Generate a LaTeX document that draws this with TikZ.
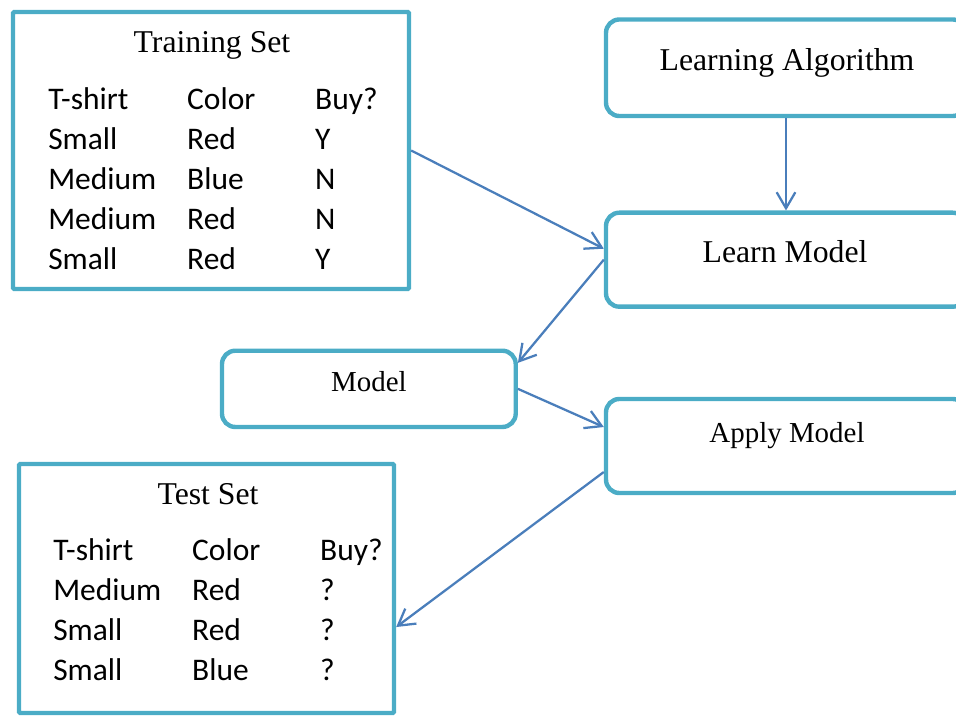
\documentclass[tikz,border=0pt]{standalone}
\usepackage{fontspec}
\setmainfont{Liberation Serif}
\newfontfamily\calibri{Carlito}
\usetikzlibrary{arrows.meta,positioning,calc}
\definecolor{boxcyan}{RGB}{75,172,198}
\definecolor{arrowblue}{RGB}{74,126,187}

\begin{document}
\begin{tikzpicture}[
    x=0.75pt, y=-0.75pt,
    setbox/.style={rectangle, draw=boxcyan, line width=3.3pt, rounded corners=1pt, inner sep=0pt},
    stepbox/.style={rectangle, draw=boxcyan, line width=3.3pt, rounded corners=10pt, inner sep=0pt, minimum width=270pt, minimum height=70.5pt},
    settitle/.style={anchor=base, inner sep=0pt, font=\fontsize{23.8}{28}\selectfont},
    smalltitle/.style={anchor=base, inner sep=0pt, font=\fontsize{21.7}{26}\selectfont},
    datatable/.style={anchor=base west, inner sep=0pt, font=\calibri\fontsize{23.6}{30}\selectfont},
    arrow/.style={-{Straight Barb[length=12pt,width=14pt]}, draw=arrowblue, line width=1.7pt}
]

\useasboundingbox (0,0) rectangle (956,716);
\clip (0,0) rectangle (956,716);

% Training set
\node[setbox, minimum width=297pt, minimum height=207.75pt] (train) at (211,150.5) {};
\node[settitle] (train-title) at (212,53) {Training Set};
\node[datatable] (train-table) at (48,110) {%
  \begin{tabular}[t]{@{}p{104.25pt}@{}p{96pt}@{}l@{}}
    T-shirt & Color & Buy?\\
    Small & Red & Y\\
    Medium & Blue & N\\
    Medium & Red & N\\
    Small & Red & Y
  \end{tabular}};

% Test set
\node[setbox, minimum width=281.25pt, minimum height=186.75pt] (test) at (206.5,588.5) {};
\node[settitle] (test-title) at (208,504) {Test Set};
\node[datatable] (test-table) at (53,560.7) {%
  \begin{tabular}[t]{@{}p{104.25pt}@{}p{96pt}@{}l@{}}
    T-shirt & Color & Buy?\\
    Medium & Red & ?\\
    Small & Red & ?\\
    Small & Blue & ?
  \end{tabular}};

% Steps
\node[stepbox, minimum height=72.4pt] (algo) at (786,67.75) {};
\node[settitle] (algo-text) at (787,71) {Learning Algorithm};
\node[stepbox] (learn) at (786,259.7) {};
\node[settitle] (learn-text) at (785,263) {Learn Model};
\node[stepbox] (apply) at (786,446) {};
\node[smalltitle] (apply-text) at (787,442) {Apply Model};

% Model
\node[stepbox, minimum width=220.3pt, minimum height=57.2pt] (model) at (368.85,388.85) {};
\node[smalltitle] (model-text) at (369,392) {Model};

% Arrows
\draw[arrow] (algo.south) -- (learn.north);
\draw[arrow] (train.east) -- ([yshift=8.25pt]learn.west);
\draw[arrow] (learn.west) -- ([yshift=19.5pt]model.east);
\draw[arrow] (model.east) -- ([yshift=14.25pt]apply.west);
\draw[arrow] ([yshift=-19.5pt]apply.west) -- ([yshift=-28.9pt]test.east);

\end{tikzpicture}
\end{document}
